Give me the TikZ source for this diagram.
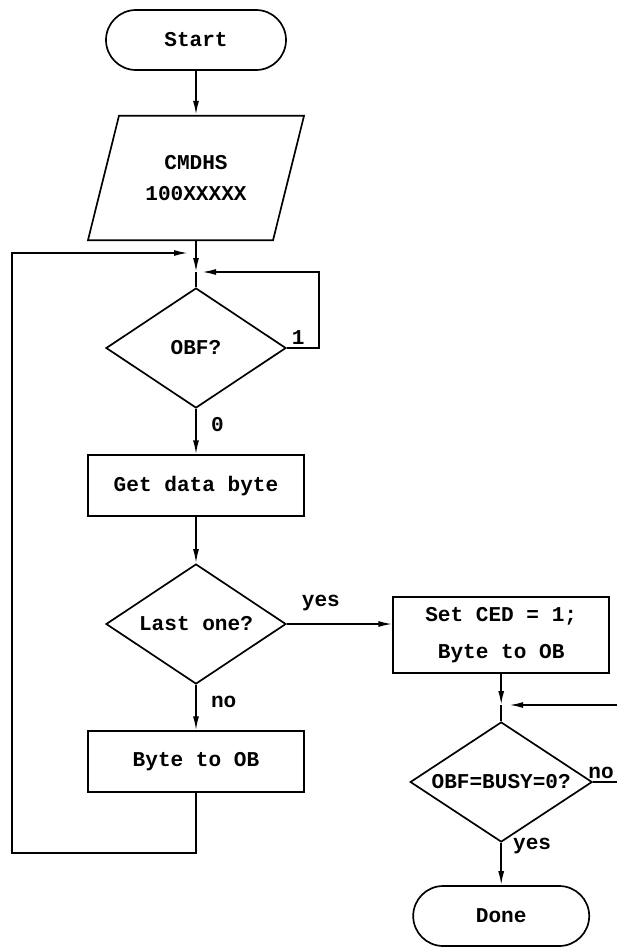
\documentclass[tikz,border=0pt]{standalone}
\usepackage{fontspec}
\setmonofont{Liberation Mono}
\usetikzlibrary{shapes.geometric,arrows.meta}

\begin{document}
\begin{tikzpicture}[
  >={Latex[length=0.35cm,width=0.15cm]},
  font=\ttfamily\bfseries\fontsize{15}{22}\selectfont,
  term/.style={rectangle, draw, line width=1.2pt, rounded corners=0.75cm, minimum width=4.5cm, minimum height=1.5cm},
  io/.style={trapezium, trapezium left angle=76, trapezium right angle=104, trapezium stretches=false, draw, line width=1.2pt, inner xsep=0.66cm, inner ysep=0.99cm, align=center},
  proc/.style={rectangle, draw, line width=1.2pt, minimum width=5.4cm, minimum height=1.52cm, align=center},
  test/.style={diamond, draw, line width=1.2pt, aspect=1.5, inner sep=0pt, minimum width=4.5cm, minimum height=3cm},
  lbl/.style={inner sep=2pt},
  arr/.style={->, line width=1.2pt},
  ln/.style={line width=1.2pt}
]
  \clip (0,0) rectangle (15.425,-23.75);

  % left column
  \node[term] (start) at (4.9, -1.0)    {Start};
  \node[io]   (cmd)   at (4.9, -4.45)   {CMDHS\\100XXXXX};
  \node[test] (obf)   at (4.9, -8.7)    {OBF?};
  \node[proc] (get)   at (4.9, -12.14)  {Get data byte};
  \node[test] (last)  at (4.9, -15.6)   {Last one?};
  \node[proc] (byte)  at (4.9, -19.04)  {Byte to OB};

  % right column
  \node[proc, minimum height=1.9cm] (set) at (12.53, -15.875) {Set CED = 1;\\[4pt]Byte to OB};
  \node[test, minimum width=4.55cm] (busy) at (12.53, -19.55) {OBF=BUSY=0?};
  \node[term, minimum width=4.4cm] (done) at (12.53, -22.9) {Done};

  \coordinate (j1) at (4.9, -6.325);
  \coordinate (j2) at (4.9, -6.8);
  \coordinate (j3) at (12.53, -17.625);

  \draw[arr] (start) -- (cmd);
  \draw[arr] (cmd.south) -- (j2);
  \draw[ln] (j2) -- (obf.north);
  \draw[arr] (obf.east) -- ++(0.8,0) |- ([xshift=0.15cm]j2);
  \draw[arr] (obf) -- (get);
  \draw[arr] (get) -- (last);
  \draw[arr] (last) -- (byte);
  \draw[arr] (last.east) -- (last.east -| set.west);
  \draw[arr] (byte.south) -- ++(0,-1.5) -| (0.3,-6.325) -- ([xshift=-0.2cm]j1);

  \draw[arr] (set.south) -- (j3);
  \draw[ln] (j3) -- (busy.north);
  \draw[arr] (busy.east) -- ++(1.2,0) |- ([xshift=0.2cm]j3);
  \draw[arr] (busy) -- (done);

  % branch labels
  \node[lbl, anchor=south west] (l1)   at ([xshift=0.05cm]obf.east)   {1};
  \node[lbl, anchor=west]       (l0)   at (5.2, -10.62)               {0};
  \node[lbl, anchor=south west] (ly1)  at ([xshift=0.3cm,yshift=0.25cm]last.east) {yes};
  \node[lbl, anchor=west]       (ln1)  at (5.2, -17.55)               {no};
  \node[lbl, anchor=south east] (ln2)  at (15.42, -19.55)             {no};
  \node[lbl, anchor=west]       (ly2)  at (12.75, -21.15)             {yes};
\end{tikzpicture}
\end{document}
